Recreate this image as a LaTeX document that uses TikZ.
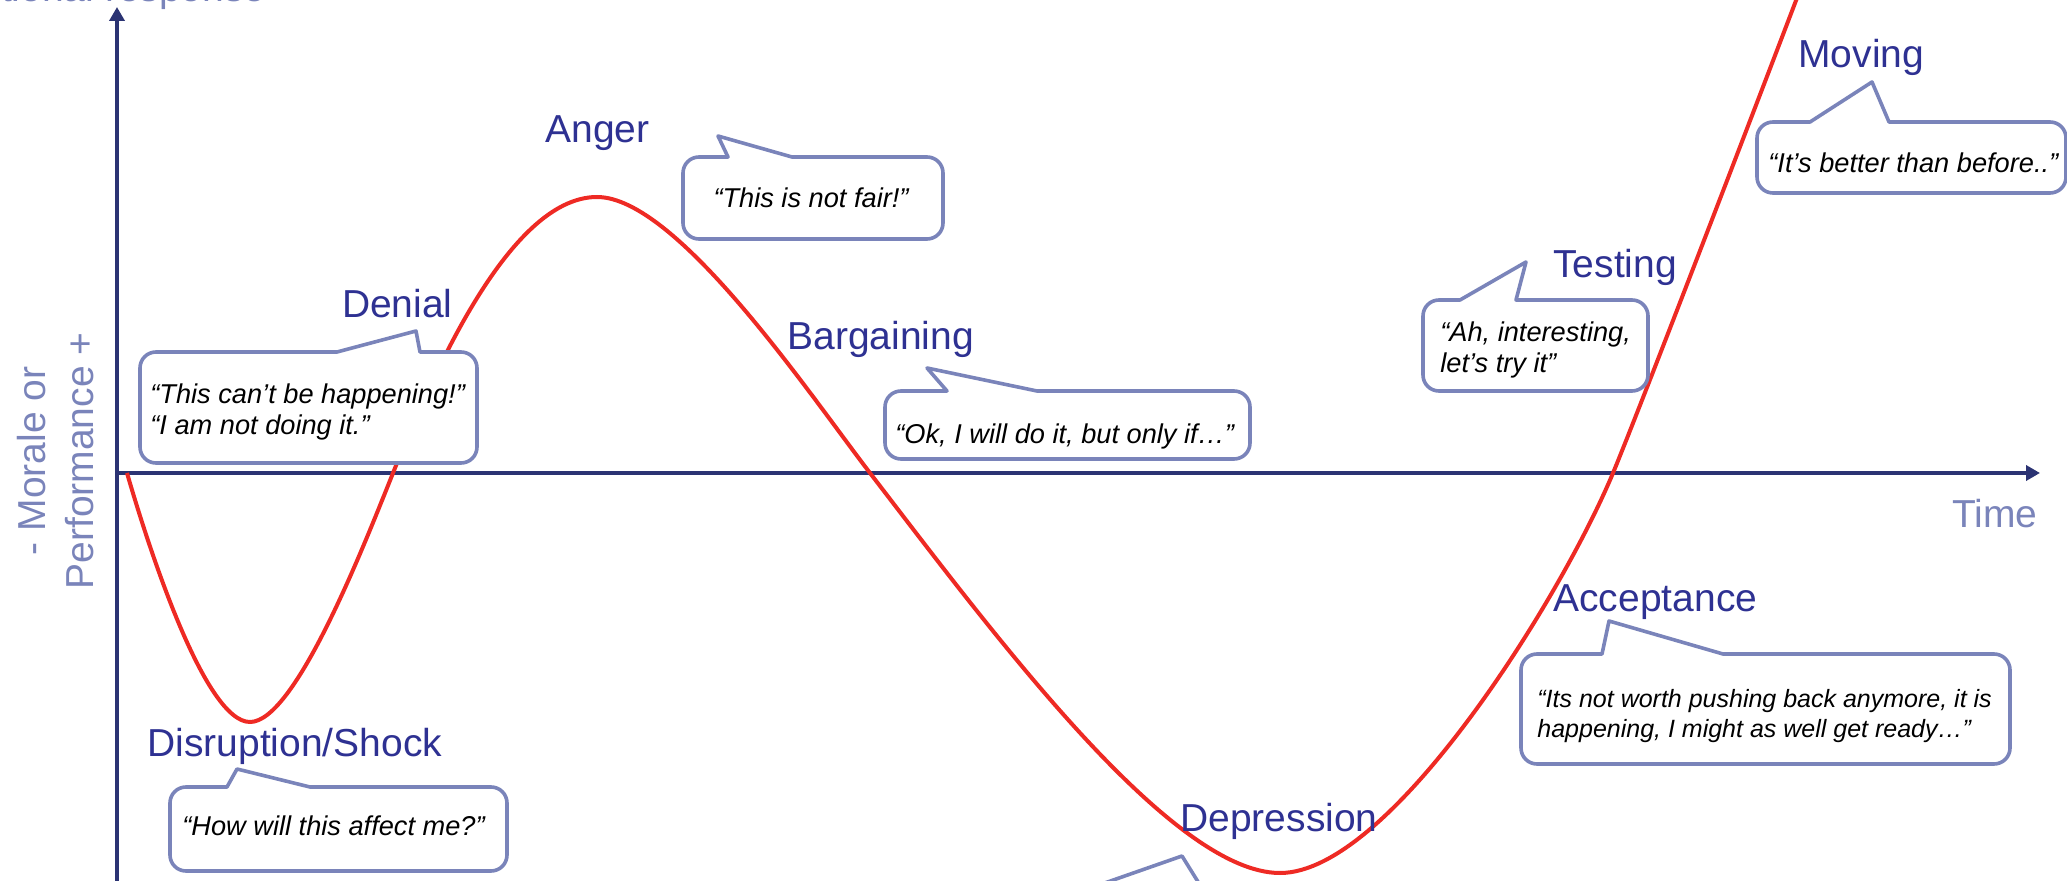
\documentclass[tikz,border=0pt]{standalone}
\usepackage{fontspec}
\setmainfont{Liberation Sans}
\usepackage{xcolor}
\usetikzlibrary{arrows.meta}
\definecolor{cAxis}{HTML}{2B3373}
\definecolor{cSoft}{HTML}{7A84BA}
\definecolor{cStage}{HTML}{2E3192}
\definecolor{cCurve}{HTML}{EE2A24}
\tikzset{
  axline/.style={draw=cAxis,line width=2pt,-{Triangle[length=7pt,width=7.5pt]}},
  stagecurve/.style={draw=cCurve,line width=2pt},
  bubble/.style={draw=cSoft,fill=white,line width=1.8pt,line join=round},
  stage/.style={font=\fontsize{19.5}{23}\selectfont,text=cStage,inner sep=0pt},
  axlbl/.style={font=\fontsize{19.5}{24}\selectfont,text=cSoft,inner sep=0pt},
  saying/.style={font=\fontsize{13.6}{15.5}\selectfont\itshape,inner sep=0pt,align=left},
}
% speech bubble: left, top, right, bottom, tail base left, tip x, tip y, tail base right
\newcommand{\bubblebox}[8]{%
  \draw[bubble] (#1,{(#2+#4)/2}) [rounded corners=8pt] -- (#1,#2)
    [sharp corners] -- (#5,#2) -- (#6,#7) -- (#8,#2)
    [rounded corners=8pt] -- (#3,#2) -- (#3,#4) -- (#1,#4) -- cycle;}

\begin{document}
\begin{tikzpicture}[x=0.5pt,y=-0.5pt]
  \useasboundingbox (0,0) rectangle (2067,881);
  % axes
  \draw[axline] (117,890) -- (117,7);
  \draw[axline] (117,473) -- (2040,473);
  \node[axlbl,anchor=base east] (ylab) at (266,2) {Emotional response};
  \node[axlbl,anchor=base east] (tlab) at (2038,528) {Time};
  \node[axlbl,rotate=90,align=center,anchor=base] (mlab) at (93,461) {- Morale or\\Performance +};
  % change curve
  \draw[stagecurve] (127,473) .. controls (149,549) and (205,722) .. (250,722)
    .. controls (295,722) and (363,548) .. (393,473)
    .. controls (428,386) and (507,197) .. (597,197)
    .. controls (677,197) and (810,395) .. (870,473)
    .. controls (990,629) and (1170,873) .. (1280,873)
    .. controls (1390,873) and (1560,600) .. (1613,473)
    .. controls (1638,413) and (1762,90) .. (1800,-10);
  % bubbles
  \bubblebox{170}{787}{507}{871}{227}{237}{769}{310}
  \bubblebox{140}{352}{477}{463}{337}{416}{331}{420}
  \bubblebox{683}{157}{943}{239}{728}{718}{136}{792}
  \bubblebox{885}{391}{1250}{459}{947}{927}{368}{1037}
  \bubblebox{1000}{885}{1400}{980}{1099}{1182}{856}{1200}
  \bubblebox{1521}{654}{2010}{764}{1602}{1609}{621}{1723}
  \bubblebox{1423}{300}{1648}{391}{1460}{1526}{262}{1516}
  \bubblebox{1757}{122}{2066}{193}{1810}{1872}{82}{1889}
  % stages
  \node[stage,anchor=base west] (shock) at (147,756) {Disruption/Shock};
  \node[stage,anchor=base east] (denial) at (453,318) {Denial};
  \node[stage,anchor=base west] (anger) at (545,143) {Anger};
  \node[stage,anchor=base west] (bargain) at (787,350) {Bargaining};
  \node[stage,anchor=base west] (depress) at (1180,831) {Depression};
  \node[stage,anchor=base west] (accept) at (1553,611) {Acceptance};
  \node[stage,anchor=base west] (testing) at (1553,278) {Testing};
  \node[stage,anchor=base west] (moving) at (1798,68) {Moving};
  % sayings
  \node[saying,anchor=base west] (qshock) at (182,835) {“How will this affect me?”};
  \node[saying,anchor=base west] (qdenial) at (150,435) {“This can’t be happening!”\\“I am not doing it.”};
  \node[saying,anchor=base] (qanger) at (811,208) {“This is not fair!”};
  \node[saying,anchor=base west] (qbargain) at (895,444) {“Ok, I will do it, but only if…”};
  \node[saying,anchor=base west,font=\fontsize{12.5}{15}\selectfont\itshape] (qaccept) at (1537,737) {“Its not worth pushing back anymore, it is\\happening, I might as well get ready…”};
  \node[saying,anchor=base west] (qtesting) at (1440,373) {“Ah, interesting,\\let’s try it”};
  \node[saying,anchor=base west] (qmoving) at (1768,173) {“It’s better than before..”};
\end{tikzpicture}
\end{document}
